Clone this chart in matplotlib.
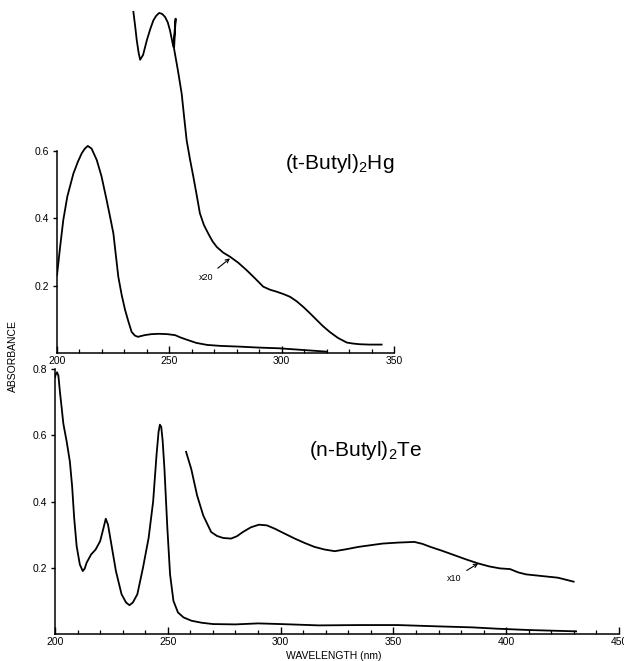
import matplotlib
matplotlib.use("Agg")
import matplotlib.pyplot as plt
from matplotlib.ticker import MultipleLocator

plt.rcParams['font.family'] = ['Liberation Sans', 'DejaVu Sans']
plt.rcParams['mathtext.default'] = 'regular'

# ---------------- data: (t-Butyl)2Hg ----------------
hg_wl = [200, 201.3, 202.8, 204.6, 207.3, 209.3, 211, 212.4, 213.7, 215.4, 217.7, 219.8,
         222.1, 223.7, 225.1, 226.2, 227.3, 228.8, 230.3, 231.8, 233.2, 234.6,
         236.0, 239, 242, 245.5, 249.1, 252.6, 255, 258, 262, 266.8, 273, 281, 290,
         298.8, 309.4, 320]
hg_abs = [0.231, 0.31, 0.395, 0.465, 0.533, 0.568, 0.593, 0.607, 0.615, 0.607, 0.573, 0.525,
          0.454, 0.402, 0.355, 0.29, 0.226, 0.172, 0.128, 0.093, 0.063, 0.052,
          0.048, 0.053, 0.056, 0.057, 0.056, 0.053, 0.046, 0.039, 0.03, 0.024, 0.021, 0.019, 0.016,
          0.014, 0.009, 0.004]

hg20_wl = [234, 234.8, 235.5, 236.3, 237, 238.3, 240, 241.5, 242.9, 244.2, 245.5, 246.8,
           248.1, 249.3, 250.3, 251.8, 252.8, 252.1, 253.8, 255.5, 256.6, 257.7, 259.2,
           260.7, 262.2, 263.6, 265.4, 267.3, 269.2, 271.1, 274, 277, 280.7, 284.4, 288.1,
           291.8, 294.8, 297.8, 300.8, 303.7, 306.6, 309.6, 312.6, 315.6, 318.5, 321.5, 325,
           329, 331.8, 334.8, 339, 344.5]
hg20_abs = [1.013, 0.97, 0.929, 0.893, 0.871, 0.885, 0.929, 0.962, 0.988, 1.002, 1.01, 1.007,
            0.998, 0.982, 0.958, 0.909, 0.993, 0.904, 0.84, 0.77, 0.7, 0.632, 0.575,
            0.523, 0.468, 0.415, 0.38, 0.355, 0.332, 0.315, 0.298, 0.286, 0.268, 0.246, 0.222,
            0.197, 0.188, 0.182, 0.175, 0.167, 0.154, 0.137, 0.118, 0.098, 0.079, 0.062, 0.045,
            0.031, 0.028, 0.026, 0.025, 0.025]

# ---------------- data: (n-Butyl)2Te ----------------
te_wl = [200, 200.4, 200.9, 201.5, 202.2, 203.0, 203.7, 205.2, 206.6, 207.6, 208.5, 209.6,
         211, 212.3, 213.2, 214, 216, 218, 220, 221.5, 222.5, 223.5, 225, 227, 229.5,
         231.5, 233, 234.5, 236.5, 239, 241.5, 243.5, 245, 245.9, 246.5, 247.1, 247.7,
         248.5, 249.8, 251, 252.5, 254.5, 257, 260.5, 265, 270, 280, 290, 300, 317, 335,
         352, 370, 385, 396, 410, 431]
te_abs = [0.775, 0.785, 0.79, 0.78, 0.73, 0.68, 0.635, 0.58, 0.52, 0.445, 0.35, 0.265,
          0.21, 0.19, 0.198, 0.215, 0.24, 0.255, 0.28, 0.32, 0.348, 0.33, 0.27, 0.19, 0.12,
          0.095, 0.087, 0.095, 0.12, 0.2, 0.29, 0.4, 0.54, 0.61, 0.632, 0.625, 0.585,
          0.5, 0.32, 0.18, 0.1, 0.065, 0.05, 0.04, 0.034, 0.03, 0.029, 0.032, 0.03, 0.026, 0.027,
          0.027, 0.023, 0.02, 0.016, 0.012, 0.008]

te10_wl = [258.1, 260.4, 263, 265.7, 269.2, 271.8, 274.5, 278, 280.6, 283.3, 286.8, 290.4,
           293.9, 297.4, 301.8, 306.3, 310.6, 315, 319.5, 324, 329.2, 334.5, 345.2, 352.2,
           359.3, 362.9, 366.4, 371.7, 377, 382.3, 387.6, 392.5, 397.3, 401.7, 405.3, 408.8,
           415.8, 422.9, 429.9]
te10_abs = [0.55, 0.498, 0.418, 0.358, 0.308, 0.296, 0.29, 0.288, 0.295, 0.308, 0.322, 0.33,
            0.328, 0.318, 0.303, 0.288, 0.275, 0.263, 0.255, 0.25, 0.256, 0.263, 0.273, 0.276,
            0.278, 0.272, 0.263, 0.251, 0.238, 0.225, 0.213, 0.204, 0.198, 0.196, 0.186, 0.18,
            0.175, 0.17, 0.158]

top_yticks = [0.2, 0.4, 0.6]
bot_yticks = [0.2, 0.4, 0.6, 0.8]
top_xticks = [200, 250, 300, 350]
bot_xticks = [200, 250, 300, 350, 400, 450]

W, H = 624, 661
fig = plt.figure(figsize=(W / 100, H / 100), dpi=100)

lw = 1.3
tickfs = 7.5


def style(ax, ytop):
    for s in ('top', 'right'):
        ax.spines[s].set_visible(False)
    for s in ('left', 'bottom'):
        ax.spines[s].set_linewidth(1.1)
    ax.spines['left'].set_bounds(0, ytop)
    ax.xaxis.set_minor_locator(MultipleLocator(10))
    ax.tick_params(axis='x', which='major', direction='in', length=5, width=1.0,
                   labelsize=tickfs, pad=2)
    ax.tick_params(axis='x', which='minor', direction='in', length=3, width=0.9)
    ax.tick_params(axis='y', which='major', direction='out', length=3, width=1.0,
                   labelsize=tickfs, pad=3)
    ax.patch.set_visible(False)


# top panel
ax1 = fig.add_axes([57 / W, 1 - 353 / H, 337 / W, 353 / H])
ax1.set_xlim(200, 350)
ax1.set_ylim(0, 353 / 336.7)
ax1.plot(hg_wl, hg_abs, color='black', lw=lw)
ax1.plot(hg20_wl, hg20_abs, color='black', lw=lw, clip_on=False)
ax1.set_xticks(top_xticks)
ax1.set_xticklabels([str(t) for t in top_xticks])
ax1.set_yticks(top_yticks)
ax1.set_yticklabels([f"{t:.1f}" for t in top_yticks])
style(ax1, 0.6)
ax1.text(301.5, 0.564, r'(t-Butyl)$_2$Hg', fontsize=15, va='center', ha='left')
ax1.annotate('x20', xy=(277, 0.281), xytext=(266.6, 0.225), fontsize=6.5,
             ha='center', va='center',
             arrowprops=dict(arrowstyle='->', lw=0.8, color='black', shrinkA=2, shrinkB=0))

# bottom panel
ax2 = fig.add_axes([55 / W, 1 - 634 / H, 564 / W, 265 / H])
ax2.set_xlim(200, 450)
ax2.set_ylim(0, 0.8)
ax2.plot(te_wl, te_abs, color='black', lw=lw)
ax2.plot(te10_wl, te10_abs, color='black', lw=lw)
ax2.set_xticks(bot_xticks)
ax2.set_xticklabels([str(t) for t in bot_xticks])
ax2.set_yticks(bot_yticks)
ax2.set_yticklabels([f"{t:.1f}" for t in bot_yticks])
style(ax2, 0.8)
ax2.text(312.6, 0.553, r'(n-Butyl)$_2$Te', fontsize=15, va='center', ha='left')
ax2.annotate('x10', xy=(387.6, 0.213), xytext=(377, 0.169), fontsize=6.5,
             ha='center', va='center',
             arrowprops=dict(arrowstyle='->', lw=0.8, color='black', shrinkA=2, shrinkB=0))

fig.text(13 / W, 1 - 356 / H, 'ABSORBANCE', rotation=90, fontsize=7.5,
         ha='center', va='center')
fig.text(334 / W, 1 - 656 / H, 'WAVELENGTH (nm)', fontsize=7.5, ha='center', va='center')

fig.savefig('out.png', dpi=100)
